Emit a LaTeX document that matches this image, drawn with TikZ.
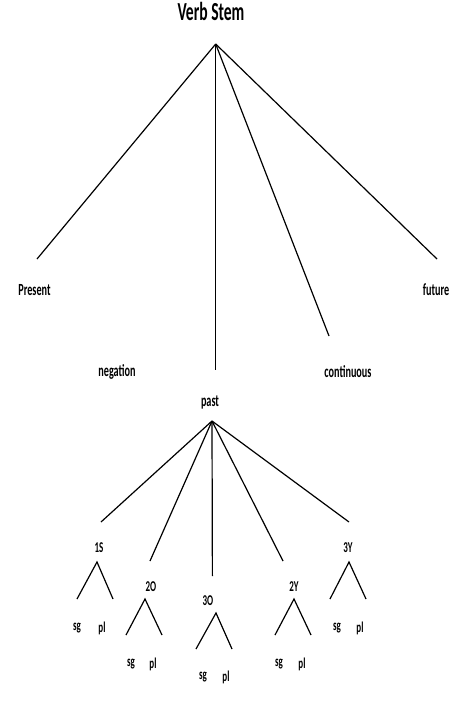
\documentclass[tikz,border=0pt]{standalone}
\usepackage{fontspec}
\usepackage{tikz}
\newfontfamily\lblfont[FakeStretch=0.6]{Carlito}
\tikzset{
  lbl/.style={inner sep=0pt, font=\lblfont\bfseries\fontsize{17}{17}\selectfont},
  num/.style={inner sep=0pt, font=\lblfont\bfseries\fontsize{15}{15}\selectfont},
  ttl/.style={inner sep=0pt, font=\lblfont\bfseries\fontsize{26}{26}\selectfont},
  branch/.style={line width=1.2pt, black}
}

\begin{document}
\begin{tikzpicture}[x=1pt,y=-1pt]

  \useasboundingbox (0,0) rectangle (475,705);

  % verb stem and its five branches
  \node[ttl] (stem) at (211,11.5) {Verb Stem};
  \coordinate (top) at (215.7,44);

  \coordinate (presEnd) at (37,259);
  \coordinate (pastEnd) at (215.7,370);
  \coordinate (contEnd) at (329,336);
  \coordinate (futEnd) at (437,259);

  \draw[branch] (top) -- (presEnd);
  \draw[branch] (top) -- (pastEnd);
  \draw[branch] (top) -- (contEnd);
  \draw[branch] (top) -- (futEnd);

  \node[lbl] (present) at (34.5,290) {Present};
  \node[lbl] (future) at (436,290) {future};
  \node[lbl] (negation) at (117,372) {negation};
  \node[lbl] (continuous) at (348,372) {continuous};
  \node[lbl] (past) at (210,402) {past};

  % past and the persons
  \coordinate (pastTop) at (212,421);

  \coordinate (endS1) at (101,522);
  \coordinate (endO2) at (150,561);
  \coordinate (endO3) at (212.4,576);
  \coordinate (endY2) at (283,561);
  \coordinate (endY3) at (349,522);

  \draw[branch] (pastTop) -- (endS1);
  \draw[branch] (pastTop) -- (endO2);
  \draw[branch] (pastTop) -- (endO3);
  \draw[branch] (pastTop) -- (endY2);
  \draw[branch] (pastTop) -- (endY3);

  \node[num] (S1) at (99,548) {1S};
  \node[num] (O2) at (151,587) {2O};
  \node[num] (O3) at (208,601) {3O};
  \node[num] (Y2) at (294,587) {2Y};
  \node[num] (Y3) at (348,548) {3Y};

  % number under each person
  \coordinate (topS1) at (97,562);
  \coordinate (topO2) at (145,599);
  \coordinate (topO3) at (216,613);
  \coordinate (topY2) at (294,599);
  \coordinate (topY3) at (349,562);

  \coordinate (lS1) at (77,599);   \coordinate (rS1) at (113,599);
  \coordinate (lO2) at (126,635);  \coordinate (rO2) at (162,635);
  \coordinate (lO3) at (196,649);  \coordinate (rO3) at (232,649);
  \coordinate (lY2) at (275,635);  \coordinate (rY2) at (311,635);
  \coordinate (lY3) at (330,599);  \coordinate (rY3) at (366,599);

  \draw[branch] (lS1) -- (topS1) -- (rS1);
  \draw[branch] (lO2) -- (topO2) -- (rO2);
  \draw[branch] (lO3) -- (topO3) -- (rO3);
  \draw[branch] (lY2) -- (topY2) -- (rY2);
  \draw[branch] (lY3) -- (topY3) -- (rY3);

  \node[num] (sgS1) at (77,628) {sg};   \node[num] (plS1) at (102,628) {pl};
  \node[num] (sgO2) at (131,664) {sg};  \node[num] (plO2) at (153,664) {pl};
  \node[num] (sgO3) at (203,677) {sg};  \node[num] (plO3) at (226,677) {pl};
  \node[num] (sgY2) at (279,664) {sg};  \node[num] (plY2) at (302,664) {pl};
  \node[num] (sgY3) at (337,628) {sg};  \node[num] (plY3) at (360,628) {pl};

\end{tikzpicture}
\end{document}
